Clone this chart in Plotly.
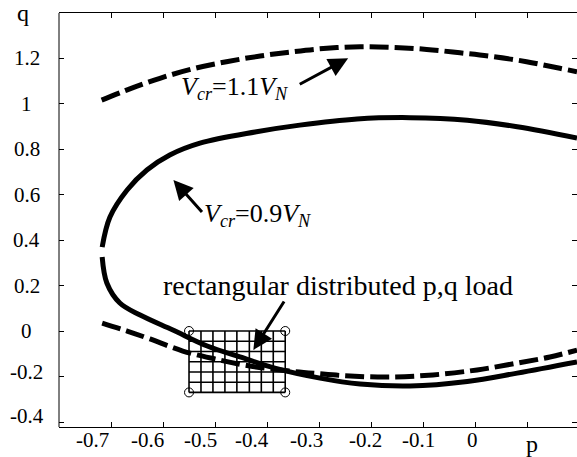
import plotly.graph_objects as go

# ---- data ----
solid_p = [0.196, 0.081, -0.015, -0.125, -0.227, -0.337, -0.423, -0.529, -0.587, -0.631, -0.669, -0.702, -0.717, None,
           -0.717, -0.708, -0.683, -0.644, -0.581, -0.515, -0.452, -0.385, -0.298, -0.221, -0.125, -0.015, 0.081, 0.196]
solid_q = [0.848, 0.898, 0.927, 0.938, 0.932, 0.905, 0.875, 0.826, 0.774, 0.708, 0.620, 0.501, 0.369, None,
           0.325, 0.211, 0.123, 0.070, 0.004, -0.066, -0.114, -0.163, -0.207, -0.233, -0.242, -0.222, -0.185, -0.136]

dash_up_p = [-0.718, -0.670, -0.606, -0.542, -0.478, -0.413, -0.349, -0.285, -0.221, -0.157, -0.093, -0.029, 0.035, 0.099, 0.163, 0.196]
dash_up_q = [1.015, 1.059, 1.111, 1.153, 1.184, 1.209, 1.228, 1.243, 1.250, 1.247, 1.238, 1.223, 1.206, 1.184, 1.155, 1.140]
dash_lo_p = [-0.717, -0.669, -0.625, -0.562, -0.500, -0.433, -0.356, -0.304, -0.240, -0.163, -0.081, 0.004, 0.081, 0.144, 0.196]
dash_lo_q = [0.035, 0.0, -0.035, -0.088, -0.123, -0.154, -0.176, -0.187, -0.198, -0.202, -0.193, -0.171, -0.141, -0.114, -0.084]

grid_p = [-0.550, -0.527, -0.504, -0.481, -0.458, -0.434, -0.411, -0.388, -0.365]
grid_q = [0.0, -0.045, -0.090, -0.135, -0.180, -0.225, -0.270]

x_ticks = [-0.7, -0.6, -0.5, -0.4, -0.3, -0.2, -0.1, 0.0, 0.1]
x_labels = ['-0.7', '-0.6', '-0.5', '-0.4', '-0.3', '-0.2', '-0.1', '0']
x_label_pos = [-0.735, -0.629, -0.527, -0.428, -0.325, -0.211, -0.108, -0.004]   # as placed in the original
y_ticks = [-0.4, -0.2, 0.0, 0.2, 0.4, 0.6, 0.8, 1.0, 1.2]
y_labels = ['-0.4', '-0.2', '0', '0.2', '0.4', '0.6', '0.8', '1', '1.2']
y_label_pos = [-0.372, -0.182, 0.0, 0.2, 0.4, 0.6, 0.8, 1.0, 1.2]

label_1 = '<i>V</i><sub><i>cr</i></sub>=1.1<i>V</i><sub><i>N</i></sub>'
label_2 = '<i>V</i><sub><i>cr</i></sub>=0.9<i>V</i><sub><i>N</i></sub>'
label_3 = 'rectangular distributed p,q load'
text_pos = [(-0.462, 1.068), (-0.418, 0.51), (-0.2635, 0.202)]
text_size = [26, 26, 28]
arrow_head = [(-0.244, 1.199), (-0.580, 0.664), (-0.4263, -0.0835)]
arrow_tail = [(-0.340, 1.081), (-0.5225, 0.517), (-0.3654, 0.136)]

FONT = 'Liberation Serif'

fig = go.Figure()

# rectangular load grid
gx, gy = [], []
for p in grid_p:
    gx += [p, p, None]
    gy += [grid_q[0], grid_q[-1], None]
for q in grid_q:
    gx += [grid_p[0], grid_p[-1], None]
    gy += [q, q, None]
fig.add_trace(go.Scatter(x=gx, y=gy, mode='lines', line=dict(color='black', width=1.6),
                         hoverinfo='skip', showlegend=False))
fig.add_trace(go.Scatter(x=[grid_p[0], grid_p[-1], grid_p[0], grid_p[-1]],
                         y=[grid_q[0], grid_q[0], grid_q[-1], grid_q[-1]],
                         mode='markers', marker=dict(symbol='circle-open', size=9, color='black',
                                                     line=dict(width=1)),
                         showlegend=False))

fig.add_trace(go.Scatter(x=dash_up_p, y=dash_up_q, mode='lines', line_shape='spline',
                         line=dict(color='black', width=5, dash='19px,6px'), showlegend=False))
fig.add_trace(go.Scatter(x=dash_lo_p, y=dash_lo_q, mode='lines', line_shape='spline',
                         line=dict(color='black', width=5, dash='19px,6px'), showlegend=False))
fig.add_trace(go.Scatter(x=solid_p, y=solid_q, mode='lines', line_shape='spline', connectgaps=False,
                         line=dict(color='black', width=5), showlegend=False))

for (tx, ty), txt, sz in zip(text_pos, [label_1, label_2, label_3], text_size):
    fig.add_annotation(x=tx, y=ty, text=txt, showarrow=False, xanchor='center', yanchor='middle',
                       font=dict(family=FONT, size=sz, color='black'))
for (hx, hy), (tx, ty) in zip(arrow_head, arrow_tail):
    fig.add_annotation(x=hx, y=hy, ax=tx, ay=ty, axref='x', ayref='y', text='', showarrow=True,
                       arrowhead=2, arrowsize=1.3, arrowwidth=3, arrowcolor='black', standoff=0)

# tick labels, placed where the original puts them
for pos, txt in zip(x_label_pos, x_labels):
    fig.add_annotation(x=pos, y=0, xref='x', yref='paper', text=txt, showarrow=False,
                       xanchor='center', yanchor='middle', yshift=-13,
                       font=dict(family=FONT, size=21, color='black'))
for pos, txt in zip(y_label_pos, y_labels):
    fig.add_annotation(x=-0.062, y=pos, xref='paper', yref='y', text=txt, showarrow=False,
                       xanchor='center', yanchor='middle',
                       font=dict(family=FONT, size=21, color='black'))

fig.add_annotation(x=-0.07, y=1.0, xref='paper', yref='paper', text='q', showarrow=False,
                   xanchor='center', yanchor='top', yshift=15, font=dict(family=FONT, size=24, color='black'))
fig.add_annotation(x=0.1, y=0, xref='x', yref='paper', text='p', showarrow=False,
                   xanchor='center', yanchor='top', xshift=5, yshift=-2,
                   font=dict(family=FONT, size=24, color='black'))

fig.update_layout(
    width=577, height=457,
    margin=dict(l=59, r=0, t=13, b=30),
    paper_bgcolor='white', plot_bgcolor='white',
    font=dict(family=FONT, size=20, color='black'),
    xaxis=dict(range=[-0.8, 0.196], tickvals=x_ticks, showticklabels=False, ticks='inside', ticklen=5,
               tickcolor='black', showline=True, linecolor='black', linewidth=1, mirror='ticks',
               showgrid=False, zeroline=False),
    yaxis=dict(range=[-0.422, 1.398], tickvals=y_ticks, showticklabels=False, ticks='inside', ticklen=5,
               tickcolor='black', showline=False, mirror='ticks',
               showgrid=False, zeroline=False),
    shapes=[dict(type='line', xref='paper', yref='paper', x0=0, x1=0, y0=0, y1=1,
                 line=dict(color='black', width=1))],
)

fig.write_html('out.html', config={'displayModeBar': False},
               post_script="document.body.style.margin='0';document.body.style.overflow='hidden';")
